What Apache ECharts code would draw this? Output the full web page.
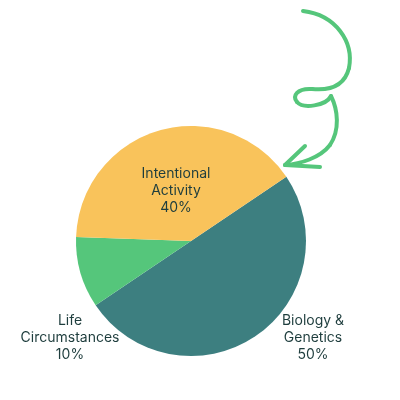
<!DOCTYPE html>
<html>
<head>
<meta charset="utf-8">
<script src="https://cdn.jsdelivr.net/npm/echarts@6/dist/echarts.min.js"></script>
<style>html,body{margin:0;padding:0;background:#fff}#c{width:400px;height:400px}</style>
</head>
<body>
<div id="c"></div>
<script>
const categories = ['Biology &\nGenetics', 'Life\nCircumstances', 'Intentional\nActivity'];
const values = [50, 10, 40];
const colors = ['#3d7f80', '#55c67b', '#f9c35b'];

const chart = echarts.init(document.getElementById('c'));
const labelPos = { 0: [313, 338], 1: [70, 338], 2: [176, 191] };
const arrowStyle = { fill: 'none', stroke: '#55c67b', lineWidth: 4, lineCap: 'round', lineJoin: 'round' };
const curves = [
  [303, 11, 336, 15, 354, 42, 349, 68],
  [349, 68, 345, 84, 332, 91, 312, 89],
  [312, 89, 297, 88, 292, 96, 297, 102],
  [297, 102, 303, 109, 326, 106, 331, 96],
  [331, 96, 338, 110, 340, 130, 330, 145],
  [330, 145, 320, 158, 300, 164, 285, 165]
];
const graphics = curves.map(c => ({
  type: 'bezierCurve',
  shape: { x1: c[0], y1: c[1], cpx1: c[2], cpy1: c[3], cpx2: c[4], cpy2: c[5], x2: c[6], y2: c[7] },
  style: arrowStyle
}));
graphics.push({ type: 'polyline', shape: { points: [[305, 146], [285, 165], [320, 167]] }, style: arrowStyle });

chart.setOption({
  animation: false,
  series: [{
    type: 'pie',
    center: [191, 241],
    radius: 115,
    startAngle: 34,
    clockwise: true,
    silent: true,
    data: categories.map((n, i) => ({ name: n, value: values[i], itemStyle: { color: colors[i] } })),
    label: {
      position: 'outside',
      formatter: p => p.name + '\n' + p.value + '%',
      color: '#1e3d3d',
      fontFamily: 'Inter',
      fontSize: 14,
      lineHeight: 17,
      align: 'center',
      overflow: 'none',
      width: 140
    },
    labelLine: { show: false },
    labelLayout: function (params) {
      const pos = labelPos[params.dataIndex];
      return { x: pos[0], y: pos[1], align: 'center', verticalAlign: 'middle' };
    }
  }],
  graphic: graphics
});
</script>
</body>
</html>
